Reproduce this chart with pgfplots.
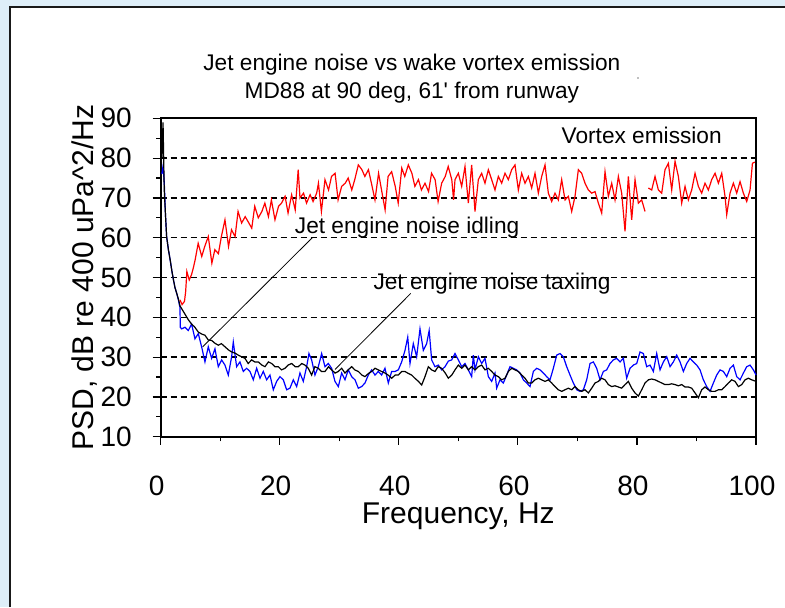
\documentclass[border=0pt]{standalone}
\usepackage{fontspec}
\setmainfont{Liberation Sans}
\usepackage{pgfplots}
\pgfplotsset{compat=1.18}
\definecolor{bgblue}{RGB}{222,238,248}
\definecolor{framec}{RGB}{25,25,25}
\definecolor{pred}{RGB}{255,0,0}
\definecolor{pblue}{RGB}{0,0,255}
\begin{document}
\begin{tikzpicture}
\fill[bgblue] (0pt,0pt) rectangle (588.75pt,455.25pt);
\useasboundingbox (0pt,0pt) rectangle (588.75pt,455.25pt);
\fill[white] (7.5pt,0pt) rectangle (588.75pt,450pt);
\draw[framec, line width=1.4pt] (7.5pt,0pt) -- (7.5pt,450pt) -- (588.75pt,450pt);
\fill[gray] (478.5pt,396.75pt) circle (0.6pt);
\begin{axis}[
  at={(120.5pt,127.7pt)}, anchor=south west,
  scale only axis, width=446.5pt, height=238.8pt,
  xmin=0, xmax=100, ymin=10, ymax=90,
  xtick={0,20,...,100}, ytick={10,20,...,90},
  minor x tick num=1, minor y tick num=1,
  xtick pos=left, ytick pos=left,
  tick align=outside,
  major tick length=6pt, minor tick length=3.5pt,
  tick style={black, line width=0.9pt},
  axis line style={black, line width=1.3pt},
  ymajorgrids,
  major grid style={black, line width=1pt, dash pattern=on 4.5pt off 3pt},
  /pgf/number format/assume math mode=true,
  ticklabel style={font=\fontsize{21}{25}\selectfont, inner sep=0pt},
  xticklabel style={anchor=north, yshift=-23.5pt, xshift=-3pt},
  yticklabel style={anchor=east, xshift=-15.5pt},
  every axis x label/.style={at={(axis description cs:0.5,-0.274)}, anchor=base, font=\fontsize{22.5}{26}\selectfont},
  every axis y label/.style={at={(axis description cs:-0.112,0.5)}, anchor=base, rotate=90, font=\fontsize{22.5}{26}\selectfont},
  xlabel={Frequency, Hz},
  ylabel={PSD, dB re 400 uPa\textasciicircum2/Hz},
  clip=false,
]
% Jet engine noise idling (blue)
\addplot[pblue, line width=0.9pt] coordinates {
(0.2,76) (0.4,78) (0.6,74) (0.8,66) (1.0,60.3) (1.3,57) (1.6,54.4) (1.9,51.5) (2.15,49.4) (2.4,47.5) (2.7,46.0) (3.0,44.2) (3.24,42.5) (3.3,37.5) (3.52,37.1) (4.08,37.5) (4.64,36.7) (5.2,38.3) (5.76,34.6) (6.32,35.9) (6.88,32.6) (7.44,28.8) (8.0,32.6) (8.56,29.7) (9.12,32.1) (9.68,27.6) (10.24,29.3) (10.8,28.0) (11.36,25.5) (11.92,30.1) (12.2,33.8) (12.76,27.6) (13.32,28.8) (13.88,26.4) (14.44,27.2) (15.0,26.4) (15.56,24.3) (16.12,27.2) (16.68,24.7) (17.24,26.4) (17.8,24.3) (18.36,25.5) (18.92,21.8) (19.48,23.9) (20.04,25.1) (20.6,24.3) (21.16,21.8) (21.72,22.2) (22.28,24.3) (22.84,22.6) (23.4,26.0) (23.96,23.9) (24.52,27.6) (24.91,30.9) (25.36,29.3) (25.92,25.5) (26.48,27.6) (27.04,30.9) (27.6,27.6) (28.16,28.4) (28.72,27.2) (29.28,23.9) (29.84,22.6) (30.4,26.0) (30.96,24.3) (31.52,26.8) (32.08,25.1) (32.64,24.3) (33.2,22.2) (33.76,22.6) (34.32,23.5) (34.88,25.5) (35.44,26.8) (36.0,25.5) (36.56,26.4) (37.12,25.5) (37.68,27.2) (38.24,23.5) (38.8,26.4) (39.36,26.4) (39.92,26.8) (40.48,28.8) (41.04,31.7) (41.5,35.0) (41.88,28.4) (42.44,33.4) (43.0,30.1) (43.56,37.1) (44.12,31.7) (44.68,33.4) (45.1,36.7) (45.52,29.3) (46.08,27.6) (46.64,28.0) (47.2,26.8) (47.76,27.6) (48.32,29.0) (48.88,29.3) (49.44,30.9) (50.0,29.3) (50.56,27.6) (51.12,28.4) (51.68,26.8) (52.24,25.1) (52.52,30.5) (52.8,26.8) (53.36,30.1) (53.92,28.4) (54.48,29.7) (55.04,25.1) (55.6,23.9) (56.16,26.0) (56.44,22.2) (57.0,24.3) (57.56,23.5) (58.12,25.5) (58.68,27.6) (59.24,27.2) (59.8,26.8) (60.36,26.0) (60.92,24.3) (61.48,23.5) (62.04,22.6) (62.6,26.4) (63.16,27.2) (63.72,26.8) (64.28,26.0) (64.84,25.1) (65.4,24.3) (65.96,27.2) (66.52,30.5) (67.08,30.9) (67.64,30.1) (68.2,27.6) (68.76,25.5) (69.32,23.5) (69.88,21.8) (70.44,21.4) (71.0,21.8) (71.56,24.3) (72.12,28.4) (72.68,28.8) (73.24,27.2) (73.8,24.3) (74.36,26.4) (74.92,26.8) (75.48,28.4) (76.04,29.3) (76.6,29.7) (77.16,28.8) (77.72,29.7) (78.28,24.7) (78.84,27.2) (79.4,28.0) (79.96,28.4) (80.52,31.3) (81.08,30.9) (81.64,27.6) (82.2,28.0) (82.76,26.4) (83.32,30.9) (83.88,26.8) (84.44,28.8) (85.0,30.1) (85.56,27.6) (86.12,28.8) (86.68,30.5) (87.24,28.8) (87.8,26.4) (88.36,28.4) (88.92,29.7) (89.48,28.8) (90.04,28.0) (90.6,26.8) (91.16,24.3) (91.72,22.6) (92.28,21.4) (92.84,23.5) (93.4,25.5) (93.96,26.8) (94.52,26.4) (95.08,25.1) (95.64,27.2) (96.2,28.0) (96.76,25.1) (97.32,24.3) (97.88,26.0) (98.44,27.6) (99.0,28.0) (99.56,26.8) (100,25.5)
};
% Jet engine noise taxiing (black)
\addplot[black, line width=0.9pt] coordinates {
(0.2,80) (0.4,89) (0.6,72) (0.8,66) (1.0,60.3) (1.3,57) (1.6,54.4) (1.9,51.5) (2.15,49.4) (2.4,47.5) (2.7,46.0) (3.0,44.5) (3.24,42.9) (3.6,42.0) (4.08,40.8) (4.6,39.5) (5.2,38.3) (5.7,37.6) (6.32,36.3) (6.9,35.8) (7.44,35.5) (8.0,34.3) (8.56,34.2) (9.1,33.5) (9.68,33.0) (10.2,33.4) (10.8,32.6) (11.4,31.8) (11.92,31.3) (12.5,31.0) (13.04,30.5) (13.6,30.1) (14.16,29.7) (14.7,28.4) (15.28,29.3) (15.8,28.8) (16.4,28.8) (17.0,28.0) (17.52,27.6) (18.1,28.8) (18.64,28.4) (19.2,27.6) (19.76,27.6) (20.3,26.8) (20.88,27.2) (21.4,28.0) (22.0,28.4) (22.6,27.6) (23.12,27.6) (23.7,28.4) (24.24,28.0) (24.8,27.2) (25.36,25.5) (25.9,27.6) (26.48,27.2) (27.0,26.4) (27.6,26.4) (28.2,27.6) (28.72,26.8) (29.3,26.0) (29.84,26.4) (30.4,27.2) (30.96,26.0) (31.5,26.8) (32.08,27.6) (32.6,26.8) (33.2,26.4) (33.8,25.5) (34.32,25.1) (34.9,25.9) (35.44,26.4) (36.0,27.2) (36.56,26.8) (37.1,26.4) (37.68,26.0) (38.2,25.5) (38.8,24.7) (39.4,25.5) (39.92,25.5) (40.5,26.4) (41.04,26.4) (41.6,25.9) (42.16,25.5) (42.7,24.7) (43.3,23.9) (43.84,23.0) (44.4,25.1) (44.96,27.6) (45.5,26.8) (46.08,26.4) (46.6,27.6) (47.2,27.2) (47.8,26.0) (48.32,24.7) (48.9,25.5) (49.44,26.8) (50.0,28.0) (50.56,27.2) (51.12,28.0) (51.68,26.8) (52.24,27.6) (52.8,26.8) (53.36,27.6) (53.92,28.0) (54.48,26.8) (55.04,27.2) (55.6,26.4) (56.16,25.5) (56.72,25.1) (57.28,24.3) (57.84,24.7) (58.4,26.4) (58.96,27.2) (59.52,26.8) (60.08,26.4) (60.64,25.5) (61.2,24.7) (61.76,23.5) (62.32,23.5) (62.88,24.3) (63.44,24.7) (64.0,24.3) (64.56,23.9) (65.12,24.3) (65.68,23.5) (66.24,22.6) (66.8,21.8) (67.36,21.4) (67.92,21.8) (68.48,22.2) (69.04,21.8) (69.6,22.6) (70.16,21.8) (70.72,21.4) (71.28,21.8) (71.84,21.0) (72.4,22.2) (72.96,23.5) (73.52,23.9) (74.08,24.7) (74.64,24.3) (75.2,23.1) (75.76,22.6) (76.32,22.8) (76.88,22.5) (77.44,22.2) (78.0,23.1) (78.56,23.9) (79.12,22.2) (79.68,21.0) (80.24,20.2) (80.8,21.8) (81.36,23.5) (81.92,24.3) (82.48,24.5) (83.04,24.3) (83.6,23.9) (84.16,23.5) (84.72,23.1) (85.28,23.1) (85.84,23.3) (86.4,23.1) (86.96,22.8) (87.52,23.1) (88.08,22.5) (88.64,22.5) (89.2,22.2) (89.76,21.0) (90.32,19.8) (90.88,21.8) (91.44,22.5) (92.0,21.8) (92.56,21.4) (93.12,21.4) (93.68,21.8) (94.24,21.8) (94.8,22.6) (95.36,23.5) (95.92,24.3) (96.48,23.9) (97.04,22.6) (97.6,23.1) (98.16,24.3) (98.72,24.7) (99.28,24.3) (100,23.9)
};
% Vortex emission (red), two segments
\addplot[pred, line width=0.9pt] coordinates {
(3.24,44.4) (3.6,43.2) (4.0,44.0) (4.2,46.5) (4.4,51.5) (4.8,49.4) (5.2,50.8) (5.5,52.5) (5.8,54.5) (6.3,58.6) (6.9,55.3) (7.4,57.8) (8.0,60.3) (8.6,53.6) (9.1,57.0) (9.7,56.0) (10.2,60.3) (10.8,64.5) (11.4,57.8) (11.9,62.0) (12.5,60.3) (13.0,66.6) (13.6,63.7) (14.2,65.3) (14.7,64.0) (15.3,62.4) (15.8,67.9) (16.4,65.0) (17.0,66.6) (17.5,68.7) (18.1,65.3) (18.6,69.5) (19.2,64.5) (19.8,67.9) (20.3,68.7) (20.9,70.4) (21.4,66.2) (22.0,70.8) (22.6,67.0) (23.1,77.1) (23.4,70.0) (24.0,71.2) (24.5,68.7) (25.1,70.8) (25.6,69.1) (26.2,71.2) (26.5,73.7) (27.0,66.6) (27.6,74.6) (28.2,72.0) (28.7,75.4) (29.3,76.2) (29.8,69.5) (30.4,72.9) (31.0,73.7) (31.5,75.0) (32.1,72.0) (32.6,74.6) (33.2,78.3) (33.8,77.1) (34.3,75.4) (34.9,77.1) (35.4,73.7) (36.0,69.5) (36.6,76.2) (37.1,72.0) (37.7,67.0) (38.2,75.4) (38.8,76.6) (39.4,72.9) (39.9,68.7) (40.5,77.5) (41.0,75.4) (41.6,78.3) (42.2,76.2) (42.7,72.9) (43.3,74.6) (43.8,72.0) (44.4,73.7) (45.0,71.6) (45.5,76.2) (46.1,74.6) (46.6,69.1) (47.2,73.7) (47.8,75.4) (48.3,77.9) (48.9,74.6) (49.2,69.5) (49.44,74.6) (50.0,76.2) (50.56,72.9) (51.12,77.9) (51.68,68.7) (52.24,78.3) (52.8,66.6) (53.36,74.6) (53.92,76.2) (54.48,73.7) (55.04,77.1) (55.6,74.6) (56.16,72.0) (56.72,75.4) (57.28,73.7) (57.84,76.2) (58.4,74.6) (58.96,77.1) (59.52,78.3) (60.08,72.0) (60.64,76.2) (61.2,73.7) (61.76,75.4) (62.32,72.5) (62.88,76.2) (63.44,71.2) (64.0,75.4) (64.56,78.3) (65.12,71.2) (65.68,69.1) (66.24,71.2) (66.8,69.5) (67.36,74.6) (67.92,69.5) (68.48,70.4) (69.04,66.6) (69.6,70.4) (70.16,77.1) (70.72,76.2) (71.28,73.7) (71.84,72.0) (72.4,71.2) (72.96,71.6) (73.52,68.7) (74.08,66.2) (74.64,76.6) (75.2,70.4) (75.76,73.7) (76.32,69.5) (76.88,75.4) (77.44,71.2) (78.0,61.6) (78.56,75.4) (79.12,64.5) (79.68,74.6) (80.24,68.7) (80.8,69.5) (81.36,66.6)
};
\addplot[pred, line width=0.9pt] coordinates {
(81.92,72.5) (82.48,72.0) (83.04,75.4) (83.6,72.0) (84.16,71.2) (84.72,77.1) (85.28,78.7) (85.84,72.0) (86.4,79.2) (86.96,75.4) (87.52,68.7) (88.08,72.9) (88.64,69.5) (89.2,72.0) (89.76,76.2) (90.32,72.9) (90.88,71.2) (91.44,73.7) (92.0,72.0) (92.56,74.6) (93.12,76.2) (93.68,73.7) (94.24,76.2) (94.8,70.4) (95.08,65.8) (95.64,71.2) (96.2,73.7) (96.76,71.2) (97.32,74.1) (97.88,71.2) (98.44,69.1) (99.0,72.0) (99.4,78.7) (99.8,79.0)
};
\draw[black, line width=0.6pt] (axis cs:25.53,60.1) -- (axis cs:7.06,32.6);
\draw[black, line width=0.6pt] (axis cs:42.0,46.0) -- (axis cs:29.28,26.9);
\node[anchor=base, inner sep=0pt, font=\fontsize{17}{20}\selectfont] at (axis cs:80.8,83.7) {Vortex emission};
\node[anchor=base, inner sep=0pt, font=\fontsize{17}{20}\selectfont] at (axis cs:41.4,61.1) {Jet engine noise idling};
\node[anchor=base, inner sep=0pt, font=\fontsize{17}{20}\selectfont] at (axis cs:55.65,47.0) {Jet engine noise taxiing};
\node[anchor=center, align=center, inner sep=0pt, font=\fontsize{17}{21}\selectfont] at (axis description cs:0.422,1.1234) {Jet engine noise vs wake vortex emission\\MD88 at 90 deg, 61\textquotesingle{} from runway};
\end{axis}
\end{tikzpicture}
\end{document}
